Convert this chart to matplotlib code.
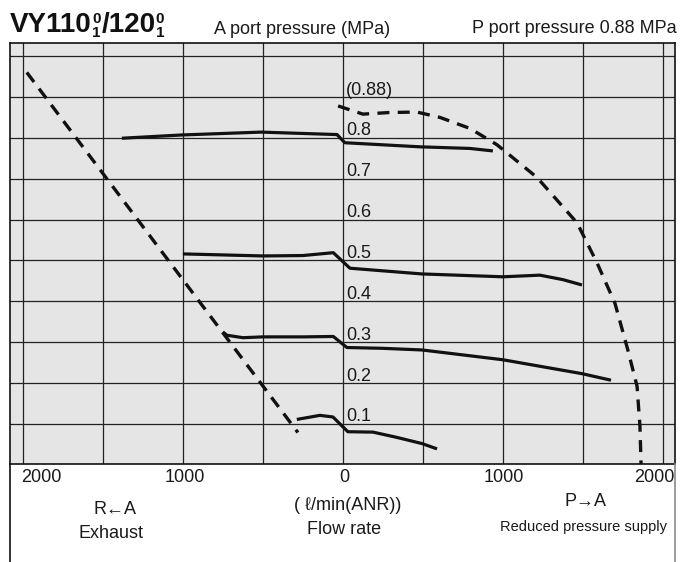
import matplotlib
matplotlib.use("Agg")
import matplotlib.pyplot as plt
from matplotlib import transforms
from matplotlib.lines import Line2D

plt.rcParams['font.family'] = ['Liberation Sans', 'DejaVu Sans']

# ---- data (flow in l/min; negative = exhaust R<-A side; pressure in MPa) ----
p08_x = [-1381, -1006, -512, -37, 12, 481, 794, 937]
p08_y = [0.799, 0.807, 0.814, 0.808, 0.788, 0.778, 0.774, 0.768]

p05_x = [-1000, -500, -250, -60, 0, 44, 494, 1000, 1231, 1375, 1494]
p05_y = [0.516, 0.511, 0.512, 0.519, 0.497, 0.481, 0.467, 0.460, 0.464, 0.453, 0.440]

p03_x = [-750, -725, -625, -500, -250, -60, 25, 250, 494, 1000, 1494, 1675]
p03_y = [0.325, 0.317, 0.311, 0.313, 0.313, 0.314, 0.287, 0.285, 0.281, 0.257, 0.223, 0.207]

p01_x = [-288, -144, -62, 31, 188, 338, 494, 588]
p01_y = [0.111, 0.121, 0.117, 0.081, 0.080, 0.067, 0.052, 0.039]

max_x = [-30, 125, 294, 463, 606, 794, 963, 1213, 1463, 1588, 1700, 1781, 1838, 1856, 1863]
max_y = [0.878, 0.858, 0.862, 0.863, 0.850, 0.823, 0.783, 0.703, 0.592, 0.494, 0.395, 0.280, 0.192, 0.094, 0.0]

exh_x = [-1975, -281]
exh_y = [0.960, 0.079]

grid_x = [-2000, -1500, -1000, -500, 0, 500, 1000, 1500, 2000]
grid_p = [0.1, 0.2, 0.3, 0.4, 0.5, 0.6, 0.7, 0.8, 0.9, 1.0]

level_labels = ["0.1", "0.2", "0.3", "0.4", "0.5", "0.6", "0.7", "0.8", "(0.88)"]
level_values = [0.1, 0.2, 0.3, 0.4, 0.5, 0.6, 0.7, 0.8, 0.9]

tick_values = [-2000, -1000, 0, 1000, 2000]
tick_labels = ["2000", "1000", "0", "1000", "2000"]
tick_shift_px = [19, 2, 1, 1, -9]

title_parts = [("VY110", "0", "1"), ("/120", "0", "1")]

W, H = 682, 562
fig = plt.figure(figsize=(W / 100, H / 100), dpi=100)
ax = fig.add_axes([10 / W, (H - 464) / H, 665 / W, 421 / H])
ax.set_xlim(-2080, 2075)
ax.set_ylim(0.002, 1.032)
ax.set_facecolor('#e5e5e5')
ax.set_xticks([])
ax.set_yticks([])
for s in ax.spines.values():
    s.set_linewidth(1.2)
    s.set_color('#111111')

for v in grid_x:
    ax.axvline(v, color='#222222', lw=0.9, zorder=1)
for p in grid_p:
    ax.axhline(p, color='#222222', lw=0.9, zorder=1)

ink = '#111111'
for xs, ys in [(p08_x, p08_y), (p05_x, p05_y), (p03_x, p03_y), (p01_x, p01_y)]:
    ax.plot(xs, ys, color=ink, lw=2.3, solid_joinstyle='round', solid_capstyle='butt', zorder=3)

dash = (0, (3.6, 2.5))
ax.plot(max_x, max_y, color=ink, lw=2.4, linestyle=dash, zorder=3)
ax.plot(exh_x, exh_y, color=ink, lw=2.4, linestyle=dash, zorder=3)

for lab, p in zip(level_labels, level_values):
    ax.text(20, p + 0.006, lab, fontsize=13, color='#1a1a1a', va='baseline', ha='left', zorder=4)

# tick labels below the frame
base = transforms.blended_transform_factory(ax.transData, fig.transFigure)
for v, lab, dx in zip(tick_values, tick_labels, tick_shift_px):
    tr = base + transforms.ScaledTranslation(dx / 100, 0, fig.dpi_scale_trans)
    ax.text(v, 1 - 477 / H, lab, transform=tr, fontsize=13, color='#1a1a1a',
            ha='center', va='center', clip_on=False)

# side borders continuing to bottom
fig.add_artist(Line2D([10 / W, 10 / W], [0, (H - 464) / H], color='#111111', lw=1.2))
fig.add_artist(Line2D([675 / W, 675 / W], [0, (H - 464) / H], color='#8a8a8a', lw=1.2))

def ftxt(x, y, s, color='#1a1a1a', **kw):
    return fig.text(x / W, 1 - y / H, s, color=color, **kw)

# title with stacked super/subscripts (one two-line text per stack)
renderer = fig.canvas.get_renderer()
xpos = 10.0
for main, sup, sub in title_parts:
    t = ftxt(xpos, 32, main, fontsize=20, weight='bold', ha='left', va='baseline', color='#111111')
    xpos = t.get_window_extent(renderer).x1 + 0.5
    st = ftxt(xpos, 12, sup + "\n" + sub, fontsize=11, weight='bold', ha='left', va='top',
              linespacing=0.97, color='#111111')
    xpos = st.get_window_extent(renderer).x1 + 0.5

ftxt(214, 34, "A port pressure (MPa)", fontsize=13, ha='left', va='baseline')
ftxt(677, 33, "P port pressure 0.88 MPa", fontsize=13, ha='right', va='baseline')

ftxt(115, 509, "R\u2190A", fontsize=13, ha='center', va='center')
ftxt(111, 534, "Exhaust", fontsize=13, ha='center', va='center')
ftxt(348, 506, "( \u2113/min(ANR))", fontsize=13, ha='center', va='center')
ftxt(344, 529, "Flow rate", fontsize=13, ha='center', va='center')
ftxt(586, 502, "P\u2192A", fontsize=13, ha='center', va='center')
ftxt(583, 527, "Reduced pressure supply", fontsize=10.5, ha='center', va='center')

fig.savefig("out.png", dpi=100, facecolor='white')
